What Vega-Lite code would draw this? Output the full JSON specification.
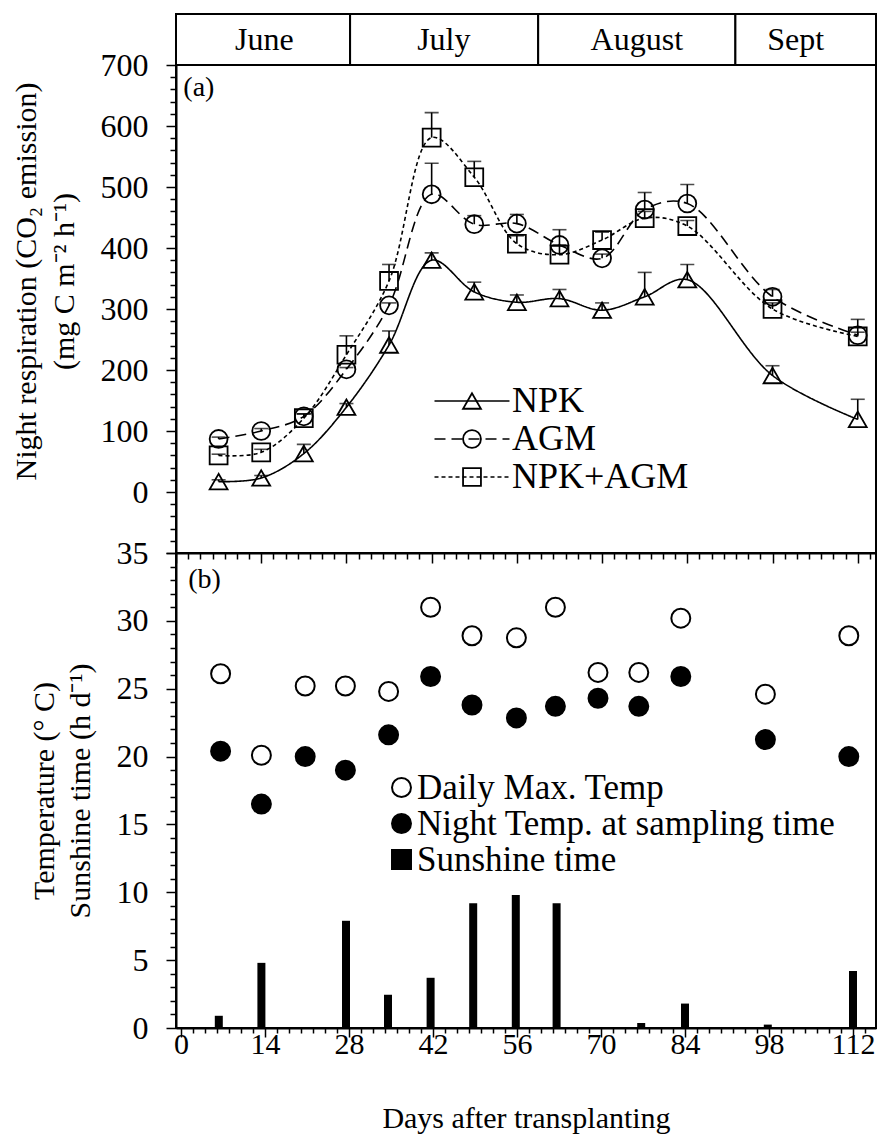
{
  "$schema": "https://vega.github.io/schema/vega-lite/v6.json",
  "padding": {"left": 10, "top": 12, "right": 4, "bottom": 0},
  "spacing": 0,
  "bounds": "flush",
  "resolve": {
    "scale": {"y": "independent", "shape": "independent", "fill": "independent", "stroke": "independent", "strokeDash": "independent"},
    "legend": {"shape": "independent", "fill": "independent", "stroke": "independent", "strokeDash": "independent"}
  },
  "config": {
    "font": "Liberation Serif",
    "view": {"stroke": "black", "strokeWidth": 2},
    "axis": {"grid": false, "labelOverlap": false, "domainColor": "black", "domainWidth": 2, "tickColor": "black", "tickWidth": 1.5, "labelColor": "black", "titleColor": "black", "labelFont": "Liberation Serif", "titleFont": "Liberation Serif", "titleFontWeight": "normal"},
    "legend": {"labelFont": "Liberation Serif", "labelColor": "black", "padding": 0, "labelLimit": 0}
  },
  "datasets": {
    "months": [
      {"month": "June", "start": 0, "end": 28.6, "mid": 14.5},
      {"month": "July", "start": 28.6, "end": 59.5, "mid": 44},
      {"month": "August", "start": 59.5, "end": 91.9, "mid": 75.7},
      {"month": "Sept", "start": 91.9, "end": 115, "mid": 101.8}
    ],
    "resp": [
      {"series": "NPK", "day": 7, "value": 17, "hi": 20},
      {"series": "NPK", "day": 14, "value": 23, "hi": 27},
      {"series": "NPK", "day": 21, "value": 63, "hi": 78},
      {"series": "NPK", "day": 28, "value": 139, "hi": 145},
      {"series": "NPK", "day": 35, "value": 241, "hi": 264},
      {"series": "NPK", "day": 42, "value": 380, "hi": 392},
      {"series": "NPK", "day": 49, "value": 328, "hi": 344},
      {"series": "NPK", "day": 56, "value": 311, "hi": 323},
      {"series": "NPK", "day": 63, "value": 317, "hi": 332},
      {"series": "NPK", "day": 70, "value": 298, "hi": 310},
      {"series": "NPK", "day": 77, "value": 320, "hi": 360},
      {"series": "NPK", "day": 84, "value": 348, "hi": 373},
      {"series": "NPK", "day": 98, "value": 191, "hi": 207},
      {"series": "NPK", "day": 112, "value": 119, "hi": 152},
      {"series": "AGM", "day": 7, "value": 87, "hi": 90},
      {"series": "AGM", "day": 14, "value": 100, "hi": 104},
      {"series": "AGM", "day": 21, "value": 124, "hi": 128},
      {"series": "AGM", "day": 28, "value": 201, "hi": 204},
      {"series": "AGM", "day": 35, "value": 306, "hi": 310},
      {"series": "AGM", "day": 42, "value": 488, "hi": 539},
      {"series": "AGM", "day": 49, "value": 439, "hi": 453},
      {"series": "AGM", "day": 56, "value": 440, "hi": 455},
      {"series": "AGM", "day": 63, "value": 405, "hi": 430},
      {"series": "AGM", "day": 70, "value": 383, "hi": 390},
      {"series": "AGM", "day": 77, "value": 463, "hi": 491},
      {"series": "AGM", "day": 84, "value": 473, "hi": 504},
      {"series": "AGM", "day": 98, "value": 320, "hi": 332},
      {"series": "AGM", "day": 112, "value": 257, "hi": 283},
      {"series": "NPK+AGM", "day": 7, "value": 60, "hi": 62},
      {"series": "NPK+AGM", "day": 14, "value": 65, "hi": 70},
      {"series": "NPK+AGM", "day": 21, "value": 121, "hi": 128},
      {"series": "NPK+AGM", "day": 28, "value": 225, "hi": 256},
      {"series": "NPK+AGM", "day": 35, "value": 346, "hi": 373},
      {"series": "NPK+AGM", "day": 42, "value": 581, "hi": 622},
      {"series": "NPK+AGM", "day": 49, "value": 516, "hi": 542},
      {"series": "NPK+AGM", "day": 56, "value": 407, "hi": 420},
      {"series": "NPK+AGM", "day": 63, "value": 389, "hi": 405},
      {"series": "NPK+AGM", "day": 70, "value": 413, "hi": 426},
      {"series": "NPK+AGM", "day": 77, "value": 449, "hi": 460},
      {"series": "NPK+AGM", "day": 84, "value": 436, "hi": 445},
      {"series": "NPK+AGM", "day": 98, "value": 300, "hi": 310},
      {"series": "NPK+AGM", "day": 112, "value": 255, "hi": 262}
    ],
    "temp": [
      {"var": "Daily Max. Temp", "day": 6.6, "value": 26.1},
      {"var": "Daily Max. Temp", "day": 13.4, "value": 20.1},
      {"var": "Daily Max. Temp", "day": 20.7, "value": 25.2},
      {"var": "Daily Max. Temp", "day": 27.4, "value": 25.2},
      {"var": "Daily Max. Temp", "day": 34.6, "value": 24.8},
      {"var": "Daily Max. Temp", "day": 41.6, "value": 31.0},
      {"var": "Daily Max. Temp", "day": 48.5, "value": 28.9},
      {"var": "Daily Max. Temp", "day": 55.9, "value": 28.75},
      {"var": "Daily Max. Temp", "day": 62.4, "value": 31.0},
      {"var": "Daily Max. Temp", "day": 69.5, "value": 26.2},
      {"var": "Daily Max. Temp", "day": 76.3, "value": 26.2},
      {"var": "Daily Max. Temp", "day": 83.3, "value": 30.2},
      {"var": "Daily Max. Temp", "day": 97.4, "value": 24.6},
      {"var": "Daily Max. Temp", "day": 111.3, "value": 28.9},
      {"var": "Night Temp. at sampling time", "day": 6.6, "value": 20.4},
      {"var": "Night Temp. at sampling time", "day": 13.4, "value": 16.5},
      {"var": "Night Temp. at sampling time", "day": 20.7, "value": 20.0},
      {"var": "Night Temp. at sampling time", "day": 27.4, "value": 19.0},
      {"var": "Night Temp. at sampling time", "day": 34.6, "value": 21.6},
      {"var": "Night Temp. at sampling time", "day": 41.6, "value": 25.9},
      {"var": "Night Temp. at sampling time", "day": 48.5, "value": 23.8},
      {"var": "Night Temp. at sampling time", "day": 55.9, "value": 22.85},
      {"var": "Night Temp. at sampling time", "day": 62.4, "value": 23.7},
      {"var": "Night Temp. at sampling time", "day": 69.5, "value": 24.3},
      {"var": "Night Temp. at sampling time", "day": 76.3, "value": 23.7},
      {"var": "Night Temp. at sampling time", "day": 83.3, "value": 25.9},
      {"var": "Night Temp. at sampling time", "day": 97.4, "value": 21.25},
      {"var": "Night Temp. at sampling time", "day": 111.3, "value": 20.0}
    ],
    "sun": [
      {"day": 6.3, "value": 0.9},
      {"day": 13.4, "value": 4.8},
      {"day": 20.7, "value": 0},
      {"day": 27.5, "value": 7.9},
      {"day": 34.5, "value": 2.45},
      {"day": 41.6, "value": 3.7},
      {"day": 48.7, "value": 9.2},
      {"day": 55.8, "value": 9.8},
      {"day": 62.6, "value": 9.2},
      {"day": 69.5, "value": 0},
      {"day": 76.7, "value": 0.37},
      {"day": 84.0, "value": 1.8},
      {"day": 97.8, "value": 0.25},
      {"day": 112.0, "value": 4.2}
    ]
  },
  "vconcat": [
    {
      "width": 700,
      "height": 51,
      "data": {"name": "months"},
      "layer": [
        {
          "mark": {"type": "rect", "fill": "white", "stroke": "black", "strokeWidth": 2},
          "encoding": {
            "x": {"field": "start", "type": "quantitative", "scale": {"domain": [0, 115], "nice": false, "zero": false}, "axis": null},
            "x2": {"field": "end"}
          }
        },
        {
          "mark": {"type": "text", "fontSize": 32, "baseline": "middle", "align": "center", "color": "black"},
          "encoding": {
            "x": {"field": "mid", "type": "quantitative"},
            "text": {"field": "month"}
          }
        }
      ]
    },
    {
      "width": 700,
      "height": 488,
      "data": {"name": "resp"},
      "encoding": {
        "x": {"field": "day", "type": "quantitative", "scale": {"domain": [0, 115], "nice": false, "zero": false},
          "axis": {"values": [0,2,4,6,8,10,12,14,16,18,20,22,24,26,28,30,32,34,36,38,40,42,44,46,48,50,52,54,56,58,60,62,64,66,68,70,72,74,76,78,80,82,84,86,88,90,92,94,96,98,100,102,104,106,108,110,112,114],
            "labels": false, "title": null, "tickSize": {"condition": {"test": "datum.value % 14 === 0", "value": 10}, "value": 6}}},
        "y": {"field": "value", "type": "quantitative", "scale": {"domain": [-100, 700], "nice": false, "zero": false},
          "axis": {"values": [-100,-80,-60,-40,-20,0,20,40,60,80,100,120,140,160,180,200,220,240,260,280,300,320,340,360,380,400,420,440,460,480,500,520,540,560,580,600,620,640,660,680,700],
            "labelExpr": "datum.value >= 0 && datum.value % 100 === 0 ? datum.label : ''",
            "labelOverlap": false,
            "tickSize": {"condition": {"test": "datum.value % 100 === 0", "value": 10}, "value": 6},
            "labelFontSize": 32, "labelPadding": 18,
            "title": ["Night respiration (CO₂ emission)", "(mg C m⁻² h⁻¹)"],
            "titleFontSize": 30, "titleLineHeight": 38, "titlePadding": 21, "titleY": 216}}
      },
      "layer": [
        {
          "mark": {"type": "line", "interpolate": "catmull-rom", "color": "black", "strokeWidth": 1.6},
          "encoding": {
            "strokeDash": {"field": "series", "type": "nominal", "sort": ["NPK", "AGM", "NPK+AGM"],
              "scale": {"range": [[1, 0], [11, 6], [4, 3]]},
              "legend": {"orient": "none", "legendX": 278, "legendY": 318, "title": null, "symbolType": "M-5,0H5", "symbolSize": 225, "symbolStrokeWidth": 1.6, "symbolStrokeColor": "black", "labelFontSize": 36, "labelOffset": 22, "rowPadding": 2, "symbolOffset": 0}}
          }
        },
        {
          "mark": {"type": "rule", "color": "black", "strokeWidth": 1.6},
          "encoding": {"y2": {"field": "hi"}}
        },
        {
          "mark": {"type": "tick", "orient": "horizontal", "color": "black", "thickness": 1.6, "size": 14},
          "encoding": {"y": {"field": "hi", "type": "quantitative"}}
        },
        {
          "mark": {"type": "point", "filled": false, "color": "black", "strokeWidth": 1.8, "opacity": 1, "size": 320},
          "encoding": {
            "shape": {"field": "series", "type": "nominal",
              "scale": {"domain": ["NPK", "AGM", "NPK+AGM"], "range": ["triangle-up", "circle", "square"]},
              "legend": {"orient": "none", "legendX": 278, "legendY": 318, "title": null, "labelFontSize": 36, "labelExpr": "''", "rowPadding": 2, "symbolFillColor": "white", "symbolStrokeColor": "black", "symbolStrokeWidth": 1.8, "symbolSize": 320, "symbolOffset": 0}}
          }
        },
        {
          "data": {"values": [{"day": 1.2, "value": 662, "label": "(a)"}]},
          "mark": {"type": "text", "align": "left", "baseline": "middle", "fontSize": 28, "color": "black"},
          "encoding": {"text": {"field": "label"}}
        }
      ]
    },
    {
      "width": 700,
      "height": 475,
      "encoding": {
        "x": {"field": "day", "type": "quantitative", "scale": {"domain": [0, 115], "nice": false, "zero": false},
          "axis": {"values": [0,2,4,6,8,10,12,14,16,18,20,22,24,26,28,30,32,34,36,38,40,42,44,46,48,50,52,54,56,58,60,62,64,66,68,70,72,74,76,78,80,82,84,86,88,90,92,94,96,98,100,102,104,106,108,110,112,114],
            "labelExpr": "datum.value % 14 === 0 ? datum.label : ''",
            "labelOverlap": false,
            "tickSize": {"condition": {"test": "datum.value % 14 === 0", "value": 9}, "value": 5},
            "labelFontSize": 30, "labelPadding": -8, "labelFlush": false,
            "title": "Days after transplanting", "titleFontSize": 30, "titlePadding": 44}},
        "y": {"field": "value", "type": "quantitative", "scale": {"domain": [0, 35], "nice": false, "zero": false},
          "axis": {"values": [0,1,2,3,4,5,6,7,8,9,10,11,12,13,14,15,16,17,18,19,20,21,22,23,24,25,26,27,28,29,30,31,32,33,34,35],
            "labelExpr": "datum.value % 5 === 0 ? datum.label : ''",
            "labelOverlap": false,
            "tickSize": {"condition": {"test": "datum.value % 5 === 0", "value": 10}, "value": 6},
            "labelFontSize": 32, "labelPadding": 18,
            "title": ["Temperature (° C)", "Sunshine time (h d⁻¹)"],
            "titleFontSize": 30, "titleLineHeight": 36, "titlePadding": 21}}
      },
      "layer": [
        {
          "data": {"name": "sun"},
          "mark": {"type": "bar", "color": "black", "size": 8}
        },
        {
          "data": {"name": "temp"},
          "mark": {"type": "point", "filled": false, "color": "black", "strokeWidth": 2, "opacity": 1, "size": 360},
          "encoding": {
            "shape": {"field": "var", "type": "nominal",
              "scale": {"domain": ["Daily Max. Temp", "Night Temp. at sampling time", "Sunshine time"], "range": ["circle", "circle", "square"]},
              "legend": {"orient": "none", "legendX": 208, "legendY": 217, "title": null, "labelFontSize": 35, "labelOffset": -2, "rowPadding": 0, "symbolStrokeColor": "black", "symbolStrokeWidth": 2, "symbolSize": 360, "symbolOffset": 0}},
            "fill": {"field": "var", "type": "nominal",
              "scale": {"domain": ["Daily Max. Temp", "Night Temp. at sampling time", "Sunshine time"], "range": ["white", "black", "black"]},
              "legend": {"orient": "none", "legendX": 208, "legendY": 217, "title": null, "labelFontSize": 35, "labelOffset": -2, "rowPadding": 0, "symbolStrokeColor": "black", "symbolStrokeWidth": 2, "symbolSize": 360, "symbolOffset": 0}},
            "stroke": {"field": "var", "type": "nominal",
              "scale": {"domain": ["Daily Max. Temp", "Night Temp. at sampling time", "Sunshine time"], "range": ["black", "black", "black"]},
              "legend": {"orient": "none", "legendX": 208, "legendY": 217, "title": null, "labelFontSize": 35, "labelOffset": -2, "rowPadding": 0, "symbolStrokeWidth": 2, "symbolSize": 360, "symbolOffset": 0}}
          }
        },
        {
          "data": {"values": [{"day": 1.2, "value": 33.0, "label": "(b)"}]},
          "mark": {"type": "text", "align": "left", "baseline": "middle", "fontSize": 28, "color": "black"},
          "encoding": {"text": {"field": "label"}}
        }
      ]
    }
  ]
}
